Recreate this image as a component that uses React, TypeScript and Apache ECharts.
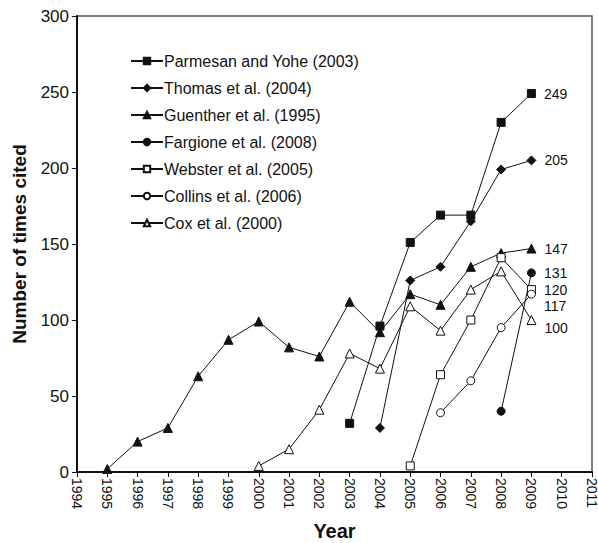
import React, { useEffect, useRef } from "react";
import * as echarts from "echarts";

const seriesNames = [
  "Parmesan and Yohe (2003)",
  "Thomas et al. (2004)",
  "Guenther et al. (1995)",
  "Fargione et al. (2008)",
  "Webster et al. (2005)",
  "Collins et al. (2006)",
  "Cox et al. (2000)",
];

const parmesanYears = [2003, 2004, 2005, 2006, 2007, 2008, 2009];
const parmesanValues = [32, 96, 151, 169, 169, 230, 249];

const thomasYears = [2004, 2005, 2006, 2007, 2008, 2009];
const thomasValues = [29, 126, 135, 165, 199, 205];

const guentherYears = [1995, 1996, 1997, 1998, 1999, 2000, 2001, 2002, 2003, 2004, 2005, 2006, 2007, 2008, 2009];
const guentherValues = [2, 20, 29, 63, 87, 99, 82, 76, 112, 92, 117, 110, 135, 144, 147];

const fargioneYears = [2008, 2009];
const fargioneValues = [40, 131];

const websterYears = [2005, 2006, 2007, 2008, 2009];
const websterValues = [4, 64, 100, 141, 120];

const collinsYears = [2006, 2007, 2008, 2009];
const collinsValues = [39, 60, 95, 117];

const coxYears = [2000, 2001, 2002, 2003, 2004, 2005, 2006, 2007, 2008, 2009];
const coxValues = [4, 15, 41, 78, 68, 109, 93, 120, 132, 100];

const yTicks = [0, 50, 100, 150, 200, 250, 300];

const FONT = "'Liberation Sans', Arial, Helvetica, sans-serif";

export default function App() {
  const ref = useRef<HTMLDivElement>(null);

  useEffect(() => {
    if (!ref.current) return;
    const chart = echarts.init(ref.current, undefined, { renderer: "svg" });

    const specs = [
      { name: seriesNames[0], years: parmesanYears, values: parmesanValues, symbol: "rect", filled: true, size: 8, offset: [0, 0] },
      { name: seriesNames[1], years: thomasYears, values: thomasValues, symbol: "diamond", filled: true, size: 9, offset: [0, 0] },
      { name: seriesNames[2], years: guentherYears, values: guentherValues, symbol: "triangle", filled: true, size: 9, offset: [0, 0] },
      { name: seriesNames[3], years: fargioneYears, values: fargioneValues, symbol: "circle", filled: true, size: 8, offset: [0, 0] },
      { name: seriesNames[4], years: websterYears, values: websterValues, symbol: "rect", filled: false, size: 8, offset: [0, 0] },
      { name: seriesNames[5], years: collinsYears, values: collinsValues, symbol: "circle", filled: false, size: 8, offset: [0, 12] },
      { name: seriesNames[6], years: coxYears, values: coxValues, symbol: "triangle", filled: false, size: 9, offset: [0, 8] },
    ];

    const series = specs.map((s) => ({
      name: s.name,
      type: "line",
      symbol: s.symbol,
      symbolSize: s.size,
      showAllSymbol: true,
      lineStyle: { color: "#111", width: 1 },
      itemStyle: s.filled
        ? { color: "#111", borderColor: "#111", borderWidth: 1 }
        : { color: "#fff", borderColor: "#111", borderWidth: 1 },
      emphasis: { disabled: true },
      data: s.years.map((y, i) => {
        const item: any = { value: [y, s.values[i]] };
        if (i === s.years.length - 1) {
          item.label = {
            show: true,
            position: "right",
            distance: 8,
            offset: s.offset,
            formatter: String(s.values[i]),
            color: "#111",
            fontSize: 14,
            fontFamily: FONT,
          };
        }
        return item;
      }),
    }));

    chart.setOption({
      animation: false,
      backgroundColor: "#fff",
      textStyle: { fontFamily: FONT },
      grid: {
        left: 77,
        right: 6,
        top: 16,
        bottom: 71,
        show: true,
        borderColor: "#555",
        borderWidth: 1.5,
        outerBoundsMode: "none",
        containLabel: false,
      },
      legend: {
        orient: "vertical",
        left: 125,
        top: 48,
        itemGap: 11,
        itemWidth: 32,
        itemHeight: 8,
        selectedMode: false,
        textStyle: { fontSize: 16, color: "#111", fontFamily: FONT, padding: [0, 0, 0, -4] },
        data: seriesNames,
      },
      xAxis: {
        type: "value",
        min: 1994,
        max: 2011,
        interval: 1,
        name: "Year",
        nameLocation: "middle",
        nameGap: 49,
        nameMoveOverlap: false,
        nameTextStyle: { fontSize: 20, fontWeight: "bold", color: "#111", fontFamily: FONT },
        axisLine: { show: true, onZero: false, lineStyle: { color: "#111", width: 2 } },
        axisTick: { show: true, inside: false, length: 5, lineStyle: { color: "#111" } },
        axisLabel: { rotate: -90, fontSize: 14, color: "#111", margin: 6, formatter: (v: number) => String(v) },
        splitLine: { show: false },
      },
      yAxis: {
        type: "value",
        min: yTicks[0],
        max: yTicks[yTicks.length - 1],
        interval: 50,
        name: "Number of times cited",
        nameLocation: "middle",
        nameGap: 48,
        nameMoveOverlap: false,
        nameTextStyle: { fontSize: 19, fontWeight: "bold", color: "#111", fontFamily: FONT },
        axisLine: { show: true, lineStyle: { color: "#111", width: 2 } },
        axisTick: { show: true, inside: false, length: 5, lineStyle: { color: "#111" } },
        axisLabel: { fontSize: 17, color: "#111", margin: 8 },
        splitLine: { show: false },
      },
      series,
    });

    return () => chart.dispose();
  }, []);

  return <div ref={ref} style={{ width: 598, height: 543, position: "absolute", left: 0, top: 0 }} />;
}
